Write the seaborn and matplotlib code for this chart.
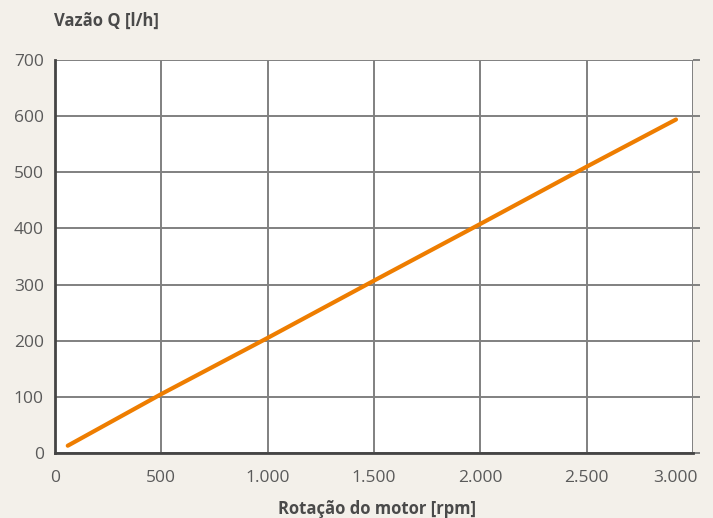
import matplotlib
matplotlib.use("Agg")
import matplotlib.pyplot as plt
import matplotlib.transforms as mtransforms
import seaborn as sns
import pandas as pd
from matplotlib.ticker import FuncFormatter

rpm = [60, 500, 1000, 1500, 2000, 2500, 2920]
flow = [13, 105, 205, 307, 408, 510, 594]
x_ticks = [0, 500, 1000, 1500, 2000, 2500, 3000]
y_ticks = [0, 100, 200, 300, 400, 500, 600, 700]

sns.set_theme(style="white")
plt.rcParams['font.family'] = ['Open Sans', 'DejaVu Sans']

bg = "#f3f0ea"
fig = plt.figure(figsize=(7.13, 5.18), dpi=100, facecolor=bg)
ax = fig.add_axes([55/713, 1-453/518, 638/713, 393/518])
ax.set_facecolor("white")

df = pd.DataFrame({"rpm": rpm, "flow": flow})
sns.lineplot(data=df, x="rpm", y="flow", ax=ax, color="#ee7d00", linewidth=3, zorder=3)

ax.set_xlim(0, 3000)
ax.set_ylim(0, 700)
ax.set_xticks(x_ticks)
ax.set_yticks(y_ticks)
ax.xaxis.set_major_formatter(FuncFormatter(lambda v, p: f"{int(v):,}".replace(",", ".")))
ax.grid(True, color="#808080", linewidth=1.4)
ax.tick_params(axis="both", which="major", length=5, width=1.4, color="#808080",
               labelsize=12.5, labelcolor="#5a5a5a", direction="out", pad=3)
ax.tick_params(axis="x", pad=7)
ax.tick_params(axis="y", right=True, labelright=False)
for side in ["top", "right"]:
    ax.spines[side].set_visible(False)
for side in ["left", "bottom"]:
    ax.spines[side].set_color("#444444")
    ax.spines[side].set_linewidth(2)
ax.set_xlabel("")
ax.set_ylabel("")

fig.canvas.draw()
last = ax.get_xticklabels()[-1]
last.set_horizontalalignment("right")
last.set_transform(last.get_transform() + mtransforms.ScaledTranslation(5/100, 0, fig.dpi_scale_trans))

fig.text(54/713, 1-26/518, "Vazão Q [l/h]", fontsize=12, fontweight="bold", color="#4a4a4a", ha="left", va="baseline")
fig.text(377/713, 1-514/518, "Rotação do motor [rpm]", fontsize=12, fontweight="bold", color="#4a4a4a", ha="center", va="baseline")

fig.savefig("out.png", dpi=100, facecolor=bg)
